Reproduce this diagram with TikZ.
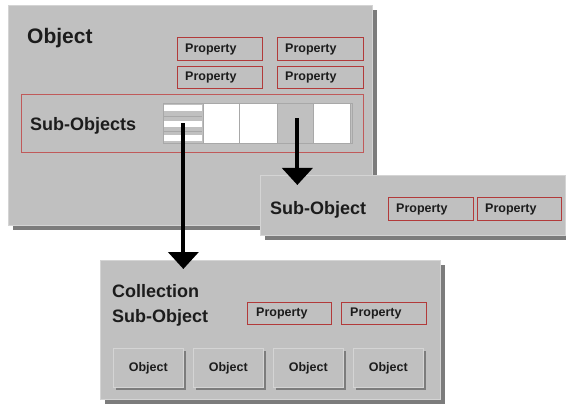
\documentclass[tikz,border=0pt]{standalone}
\usepackage{fontspec}
\setmainfont{Liberation Sans}
\usetikzlibrary{arrows.meta,shadows}
\definecolor{panelgray}{HTML}{C0C0C0}
\definecolor{edgegray}{HTML}{D4D4D4}
\definecolor{shadowgray}{HTML}{7C7C7C}
\definecolor{propred}{HTML}{B23A3A}
\definecolor{groupred}{HTML}{C05A5A}
\definecolor{cellgray}{HTML}{A8A8A8}
\definecolor{inkcol}{HTML}{1C1C1C}
\tikzset{
  panel/.style={anchor=north west, inner sep=0pt, fill=panelgray, draw=edgegray, line width=0.6pt,
    drop shadow={shadow xshift=5pt, shadow yshift=-5pt, fill=shadowgray, opacity=1}},
  propbox/.style={anchor=north west, inner sep=0pt, fill=panelgray, draw=propred, line width=1pt,
    minimum width=85pt, minimum height=23pt},
  proptext/.style={anchor=west, inner sep=0pt, text=inkcol, font=\fontsize{12.5}{14}\selectfont\bfseries},
  title/.style={anchor=west, inner sep=0pt, text=inkcol, font=\fontsize{18}{25}\selectfont\bfseries, align=left},
  cell/.style={anchor=north west, inner sep=0pt, fill=white, draw=cellgray, line width=0.7pt, minimum height=40pt},
  objbox/.style={anchor=north west, inner sep=0pt, fill=panelgray, draw=edgegray, line width=0.6pt,
    minimum width=70pt, minimum height=39pt, text=inkcol, font=\fontsize{12.5}{14}\selectfont\bfseries,
    drop shadow={shadow xshift=3pt, shadow yshift=-3pt, fill=shadowgray, opacity=1}},
  bigarrow/.style={line width=4pt, draw=black, -{Triangle[width=30pt,length=17pt]}}
}
\begin{document}
\begin{tikzpicture}[x=1pt,y=-1pt]
\useasboundingbox (0,0) rectangle (566,404);
% main object panel
\node[panel, minimum width=364pt, minimum height=220pt] (obj) at (8,5) {};
\node[title, font=\fontsize{21}{25}\selectfont\bfseries] (objt) at (27,38) {Object};
\node[propbox] (p1) at (177,37) {};
\node[proptext] at ([xshift=8pt]p1.west) {Property};
\node[propbox, minimum width=86pt] (p2) at (277,37) {};
\node[proptext] at ([xshift=8pt]p2.west) {Property};
\node[propbox, minimum height=22pt] (p3) at (177,66) {};
\node[proptext] at ([xshift=8pt]p3.west) {Property};
\node[propbox, minimum width=86pt, minimum height=22pt] (p4) at (277,66) {};
\node[proptext] at ([xshift=8pt]p4.west) {Property};
% sub-objects group
\node[anchor=north west, inner sep=0pt, draw=groupred, line width=0.8pt, minimum width=342pt, minimum height=58pt] (grp) at (21,94) {};
\node[title] (grpt) at (30,126) {Sub-Objects};
\node[anchor=north west, inner sep=0pt, draw=cellgray, fill=panelgray, line width=0.7pt, minimum width=189pt, minimum height=40pt] (arr) at (163,103) {};
\node[cell, fill=panelgray, minimum width=40pt] (c1) at (163,103) {};
\fill[white] (164,105) rectangle (202,111);
\fill[white] (164,121) rectangle (202,127);
\fill[white] (164,135) rectangle (202,141);
\draw[cellgray, line width=0.5pt] (164,116) -- (202,116) (164,131) -- (202,131);
\node[cell, minimum width=36pt] (c2) at (203,103) {};
\node[cell, minimum width=38pt] (c3) at (239,103) {};
\node[cell, fill=panelgray, minimum width=36pt] (c4) at (277,103) {};
\node[cell, minimum width=37pt] (c5) at (313,103) {};
% sub-object panel
\node[panel, minimum width=305pt, minimum height=60pt] (sub) at (260,175) {};
\node[title] (subt) at (270,210) {Sub-Object};
\node[propbox] (sp1) at (388,197) {};
\node[proptext] at ([xshift=8pt]sp1.west) {Property};
\node[propbox, minimum width=84pt] (sp2) at (477,197) {};
\node[proptext] at ([xshift=8pt]sp2.west) {Property};
% collection panel
\node[panel, minimum width=340pt, minimum height=139pt] (coll) at (100,260) {};
\node[title] (collt) at (112,305.5) {Collection\\Sub-Object};
\node[propbox, minimum width=84pt, minimum height=22pt] (cp1) at (247,302) {};
\node[proptext] at ([xshift=9pt]cp1.west) {Property};
\node[propbox, minimum width=85pt, minimum height=22pt] (cp2) at (341,302) {};
\node[proptext] at ([xshift=9pt]cp2.west) {Property};
\node[objbox] (o1) at (113,348) {Object};
\node[objbox] (o2) at (193,348) {Object};
\node[objbox] (o3) at (273,348) {Object};
\node[objbox] (o4) at (353,348) {Object};
% arrows
\coordinate (t1) at ([yshift=-9pt]c1.center |- coll.north);
\coordinate (t2) at ([xshift=2pt, yshift=-10pt]c4.center |- sub.north);
\draw[bigarrow] (c1.center) -- (t1);
\draw[bigarrow] ([xshift=2pt, yshift=5pt]c4.center) -- (t2);
\end{tikzpicture}
\end{document}
